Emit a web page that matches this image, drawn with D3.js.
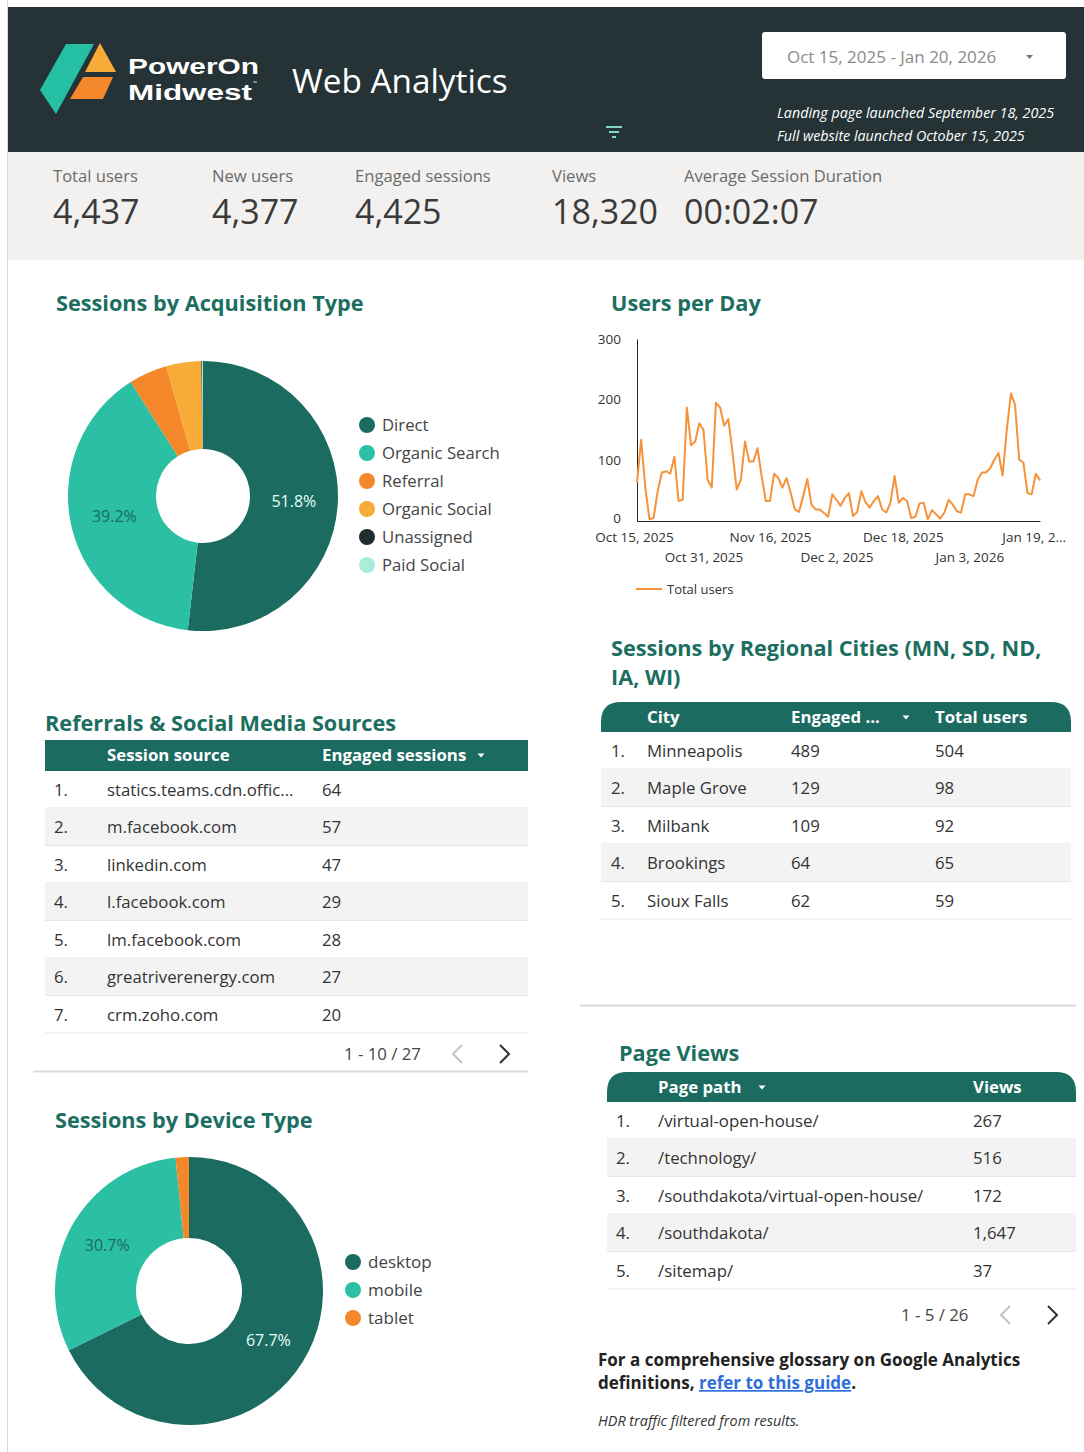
<!DOCTYPE html>
<html><head><meta charset="utf-8">
<script src="https://cdn.jsdelivr.net/npm/d3@7"></script>
<style>
html,body{margin:0;padding:0;background:#fff;}
svg{display:block;font-family:"Open Sans",sans-serif;}
</style></head>
<body>
<svg id="c" width="1084" height="1452"></svg>
<script>
// ---------- DATA ----------
const kpiLabels = ["Total users","New users","Engaged sessions","Views","Average Session Duration"];
const kpiValues = ["4,437","4,377","4,425","18,320","00:02:07"];

const acqTypes = ["Direct","Organic Search","Referral","Organic Social","Unassigned","Paid Social"];
const acqShare = [51.8,39.2,4.6,4.2,0.1,0.1];

const deviceTypes = ["desktop","mobile","tablet"];
const deviceShare = [67.7,30.7,1.6];

const usersStart = "2025-10-15";
const usersPerDay = [63,134,55,3,5,50,80,82,78,106,33,35,187,125,131,161,150,68,55,195,187,157,168,112,52,68,131,98,98,120,74,33,33,78,71,55,71,46,19,15,41,69,27,19,19,13,7,44,35,25,38,46,8,15,49,31,22,33,41,19,14,30,74,30,38,33,5,7,29,30,3,18,11,4,14,35,27,16,14,44,44,41,68,80,80,87,101,112,75,150,210,191,101,96,46,44,78,67];
const yTicks = [0,100,200,300];
const xTickDates = ["2025-10-15","2025-10-31","2025-11-16","2025-12-02","2025-12-18","2026-01-03","2026-01-19"];
const xTickLabels = ["Oct 15, 2025","Oct 31, 2025","Nov 16, 2025","Dec 2, 2025","Dec 18, 2025","Jan 3, 2026","Jan 19, 2..."];

const refSources = ["statics.teams.cdn.offic...","m.facebook.com","linkedin.com","l.facebook.com","lm.facebook.com","greatriverenergy.com","crm.zoho.com"];
const refEngaged = [64,57,47,29,28,27,20];

const cities = ["Minneapolis","Maple Grove","Milbank","Brookings","Sioux Falls"];
const cityEngaged = [489,129,109,64,62];
const cityUsers = [504,98,92,65,59];

const pagePaths = ["/virtual-open-house/","/technology/","/southdakota/virtual-open-house/","/southdakota/","/sitemap/"];
const pageViews = ["267","516","172","1,647","37"];

// ---------- COLORS ----------
const C = {dark:"#1b6b60", teal:"#2bbfa4", orange:"#f5872b", gold:"#f8ab36", unassigned:"#1f2d2f", paid:"#a9ecd9",
           header:"#253336", kpiBg:"#f2f1ef", title:"#1c6e60", text:"#333", line:"#f5923a"};
const acqColors = [C.dark,C.teal,C.orange,C.gold,C.unassigned,C.paid];
const devColors = [C.dark,C.teal,C.orange];

const svg = d3.select("#c");

// ---------- PAGE FRAME ----------
svg.append("line").attr("x1",7.5).attr("x2",7.5).attr("y1",0).attr("y2",1452).attr("stroke","#d6d6d6");
svg.append("rect").attr("x",8).attr("y",7).attr("width",1076).attr("height",145).attr("fill",C.header);
svg.append("rect").attr("x",8).attr("y",152).attr("width",1076).attr("height",108).attr("fill",C.kpiBg);

// logo
const logo = svg.append("g");
logo.append("path").attr("d","M66,44 L94,44 L56,114 L40,90 Z").attr("fill","#25c0a3");
logo.append("path").attr("d","M100,43 L116,72 L85,72 Z").attr("fill",C.gold);
logo.append("path").attr("d","M83,77 L113,77 L103,99 L70,99 Z").attr("fill",C.orange);
logo.append("text").attr("x",128).attr("y",74).attr("fill","#fff").attr("font-family","Liberation Sans").attr("font-size",22).attr("font-weight",700)
  .attr("textLength",131).attr("lengthAdjust","spacingAndGlyphs").text("PowerOn");
logo.append("text").attr("x",128).attr("y",99.5).attr("fill","#fff").attr("font-family","Liberation Sans").attr("font-size",22).attr("font-weight",700)
  .attr("textLength",124).attr("lengthAdjust","spacingAndGlyphs").text("Midwest");
logo.append("text").attr("x",253).attr("y",85).attr("fill","#fff").attr("font-size",5).text("™");
svg.append("text").attr("x",292).attr("y",93).attr("fill","#fff").attr("font-size",33.3).text("Web Analytics");

// date box
svg.append("rect").attr("x",762).attr("y",32).attr("width",304).attr("height",47).attr("rx",3).attr("fill","#fff");
svg.append("text").attr("x",787).attr("y",63).attr("fill","#8a8a8a").attr("font-size",17).text("Oct 15, 2025 - Jan 20, 2026");
svg.append("path").attr("d","M1026,55 L1033,55 L1029.5,59 Z").attr("fill","#777");
// notes
svg.append("text").attr("x",777).attr("y",118).attr("fill","#fff").attr("font-size",14.3).attr("font-style","italic").text("Landing page launched September 18, 2025");
svg.append("text").attr("x",777).attr("y",141).attr("fill","#fff").attr("font-size",14.3).attr("font-style","italic").text("Full website launched October 15, 2025");
// filter icon
[[606,622,127],[609,619,132],[612,616,137]].forEach(d=>{
  svg.append("line").attr("x1",d[0]).attr("x2",d[1]).attr("y1",d[2]).attr("y2",d[2]).attr("stroke","#7fd6c2").attr("stroke-width",2);
});

// KPIs
const kpiX = [53,212,355,552,684];
const kg = svg.selectAll("g.kpi").data(kpiLabels).join("g").attr("class","kpi").attr("transform",(d,i)=>`translate(${kpiX[i]},0)`);
kg.append("text").attr("y",182).attr("fill","#6b6b6b").attr("font-size",16.6).text(d=>d);
kg.append("text").attr("y",224).attr("fill","#3a3a3a").attr("font-size",34).text((d,i)=>kpiValues[i]);

// ---------- TITLES ----------
function title(x,y,t){ svg.append("text").attr("x",x).attr("y",y).attr("fill",C.title).attr("font-size",21.7).attr("font-weight",700).text(t); }
title(56,311,"Sessions by Acquisition Type");
title(611,311,"Users per Day");
title(45,731,"Referrals & Social Media Sources");
title(611,656,"Sessions by Regional Cities (MN, SD, ND,");
title(611,685,"IA, WI)");
title(619,1061,"Page Views");
title(55,1128,"Sessions by Device Type");

// ---------- DONUTS ----------
function donut(cx,cy,rO,rI,names,vals,colors,labels,legX,legY,legStep,legFont){
  const pie = d3.pie().sort(null).value(d=>d)(vals);
  const arc = d3.arc().innerRadius(rI).outerRadius(rO);
  const g = svg.append("g").attr("transform",`translate(${cx},${cy})`);
  g.selectAll("path").data(pie).join("path").attr("d",arc).attr("fill",(d,i)=>colors[i]);
  const la = d3.arc().innerRadius((rI+rO)/2).outerRadius((rI+rO)/2);
  g.selectAll("text").data(pie.filter((d,i)=>labels[i])).join("text")
    .attr("transform",d=>{const c=la.centroid(d);return `translate(${c[0]},${c[1]})`;})
    .attr("text-anchor","middle").attr("dy","0.35em").attr("font-size",16)
    .attr("fill",(d)=>labels[d.index]).text(d=>d.value.toFixed(1)+"%");
  const lg = svg.selectAll(null).data(names).join("g").attr("transform",(d,i)=>`translate(${legX},${legY+i*legStep})`);
  lg.append("circle").attr("r",8).attr("fill",(d,i)=>colors[i]);
  lg.append("text").attr("x",15).attr("dy","0.35em").attr("font-size",legFont).attr("fill","#444").text(d=>d);
}
donut(203,496,135,47,acqTypes,acqShare,acqColors,["#e8fffa",C.dark,null,null,null,null],367,425,28,16.7);
donut(189,1291,134,53,deviceTypes,deviceShare,devColors,["#e8fffa",C.dark,null],353,1262,28,17);

// ---------- LINE CHART ----------
const parse = d3.utcParse("%Y-%m-%d");
const t0 = parse(usersStart);
const series = usersPerDay.map((v,i)=>({date:d3.utcDay.offset(t0,i),value:v}));
const x = d3.scaleUtc().domain([t0, d3.utcDay.offset(t0,usersPerDay.length-1)]).range([637,1040]);
const y = d3.scaleLinear().domain([0,300]).range([521,339]);
const yAx = svg.append("g").attr("transform","translate(637,0)")
  .call(d3.axisLeft(y).tickValues(yTicks).tickSize(0).tickPadding(16));
yAx.select(".domain").attr("stroke","#222");
yAx.selectAll("text").attr("font-size",13.5).attr("fill","#333").attr("font-family","Open Sans");
yAx.selectAll(".tick").filter(d=>d===0).select("text").attr("dy","0.1em");
const xAx = svg.append("g").attr("transform","translate(0,521)")
  .call(d3.axisBottom(x).tickValues(xTickDates.map(parse)).tickSize(0).tickPadding(0)
        .tickFormat((d,i)=>xTickLabels[i]));
xAx.select(".domain").attr("stroke","#222");
xAx.selectAll("text").attr("font-size",13.5).attr("fill","#333").attr("font-family","Open Sans")
  .attr("y",(d,i)=> i%2===0 ? 11 : 31).attr("dy","0.71em");
xAx.selectAll(".tick").filter((d,i)=>i===0).select("text").attr("dx","-3");
xAx.selectAll(".tick").filter((d,i)=>i===xTickDates.length-1).select("text").attr("text-anchor","start").attr("dx","-34");
svg.append("path").datum(series).attr("fill","none").attr("stroke",C.line).attr("stroke-width",2).attr("stroke-linejoin","round")
  .attr("d",d3.line().x(d=>x(d.date)).y(d=>y(d.value)));
svg.append("line").attr("x1",636).attr("x2",662).attr("y1",589).attr("y2",589).attr("stroke",C.line).attr("stroke-width",2);
svg.append("text").attr("x",667).attr("y",589).attr("dy","0.35em").attr("font-size",13).attr("fill","#333").text("Total users");

// ---------- TABLES ----------
function headerPath(x0,x1,y0,y1,r){
  if(!r) return `M${x0},${y0}H${x1}V${y1}H${x0}Z`;
  return `M${x0},${y1}V${y0+r}Q${x0},${y0} ${x0+r},${y0}H${x1-r}Q${x1},${y0} ${x1},${y0+r}V${y1}Z`;
}
function table(opt){
  svg.append("path").attr("d",headerPath(opt.x0,opt.x1,opt.hy0,opt.hy1,opt.r)).attr("fill",C.dark);
  opt.heads.forEach(h=>{
    svg.append("text").attr("x",h.x).attr("y",(opt.hy0+opt.hy1)/2).attr("dy","0.35em").attr("fill","#fff")
      .attr("font-size",16.8).attr("font-weight",700).text(h.t);
    if(h.tri) svg.append("path").attr("d",`M${h.tri-3.5},${(opt.hy0+opt.hy1)/2-2}h7l-3.5,4z`).attr("fill","#fff");
  });
  const rows = svg.selectAll(null).data(opt.rows).join("g")
    .attr("transform",(d,i)=>`translate(0,${opt.ry0+i*opt.rh})`);
  rows.append("rect").attr("x",opt.x0).attr("width",opt.x1-opt.x0).attr("height",opt.rh)
    .attr("fill",(d,i)=> i%2===1 ? "#f3f3f3" : "#fff");
  rows.append("line").attr("x1",opt.x0).attr("x2",opt.x1).attr("y1",opt.rh-0.5).attr("y2",opt.rh-0.5).attr("stroke","#e6e6e6");
  rows.append("text").attr("x",opt.numX).attr("y",opt.rh/2).attr("dy","0.35em").attr("font-size",16.8).attr("fill",C.text).text((d,i)=>(i+1)+".");
  opt.cols.forEach(c=>{
    rows.append("text").attr("x",c.x).attr("y",opt.rh/2).attr("dy","0.35em").attr("font-size",16.8).attr("fill",C.text).text((d,i)=>c.v[i]);
  });
}
table({x0:45,x1:528,hy0:740,hy1:771,r:0,heads:[{x:107,t:"Session source"},{x:322,t:"Engaged sessions",tri:481}],
  ry0:771,rh:37.5,rows:refSources,numX:54,cols:[{x:107,v:refSources},{x:322,v:refEngaged}]});
table({x0:601,x1:1071,hy0:702,hy1:733,r:20,heads:[{x:647,t:"City"},{x:791,t:"Engaged ...",tri:906},{x:935,t:"Total users"}],
  ry0:732,rh:37.5,rows:cities,numX:611,cols:[{x:647,v:cities},{x:791,v:cityEngaged},{x:935,v:cityUsers}]});
table({x0:607,x1:1076,hy0:1072,hy1:1103,r:20,heads:[{x:658,t:"Page path",tri:762},{x:973,t:"Views"}],
  ry0:1102,rh:37.5,rows:pagePaths,numX:616,cols:[{x:658,v:pagePaths},{x:973,v:pageViews}]});

// pagination
function pager(x,y,t,lx,rx){
  svg.append("text").attr("x",x).attr("y",y).attr("dy","0.35em").attr("font-size",16.8).attr("fill","#444").text(t);
  svg.append("path").attr("d",`M${lx+5},${y-9}L${lx-4},${y}L${lx+5},${y+9}`).attr("fill","none").attr("stroke","#c4c4c4").attr("stroke-width",2);
  svg.append("path").attr("d",`M${rx-4},${y-9}L${rx+5},${y}L${rx-4},${y+9}`).attr("fill","none").attr("stroke","#333").attr("stroke-width",2);
}
pager(344,1054,"1 - 10 / 27",457,504);
pager(901,1315,"1 - 5 / 26",1005,1052);

svg.append("line").attr("x1",33).attr("x2",528).attr("y1",1071.5).attr("y2",1071.5).attr("stroke","#dcdcdc").attr("stroke-width",2);
svg.append("line").attr("x1",580).attr("x2",1076).attr("y1",1005.5).attr("y2",1005.5).attr("stroke","#dcdcdc").attr("stroke-width",2);

// footnotes
const fn = svg.append("text").attr("x",598).attr("y",1366).attr("font-size",17).attr("font-weight",700).attr("fill","#222");
fn.text("For a comprehensive glossary on Google Analytics");
const fn2 = svg.append("text").attr("x",598).attr("y",1389).attr("font-size",17).attr("font-weight",700).attr("fill","#222");
fn2.append("tspan").text("definitions, ");
fn2.append("tspan").attr("fill","#2f6fdc").attr("text-decoration","underline").text("refer to this guide");
fn2.append("tspan").text(".");
svg.append("text").attr("x",598).attr("y",1426).attr("font-size",14.4).attr("font-style","italic").attr("fill","#333").text("HDR traffic filtered from results.");
</script>
</body></html>
